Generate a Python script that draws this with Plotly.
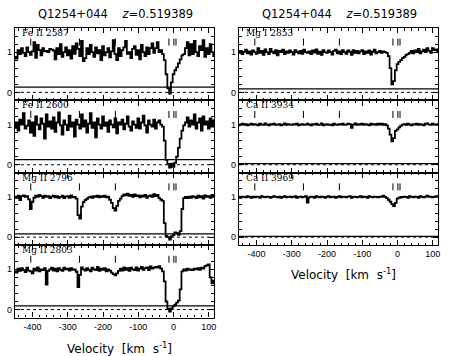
import plotly.graph_objects as go
import numpy as np

# ---------------- data ----------------
V_START = -450          # km/s, velocity of first bin
V_STEP = 5              # km/s per bin
X_RANGE = [-450, 115]
Y_RANGE = [-0.2, 1.6]

X_TICKS = [-400, -300, -200, -100, 0, 100]
X_TICKTEXT = ["-400", "-300", "-200", "-100", "0", "100"]
Y_TICKS = [0, 1]
Y_TICKTEXT = ["0", "1"]

TITLE = "Q1254+044\u00a0\u00a0\u00a0\u00a0<i>z</i>=0.519389"

LABELS = ["Fe II 2587", "Fe II 2600", "Mg II 2796", "Mg II 2803",
          "Mg I 2853", "Ca II 3934", "Ca II 3969"]

# column (0 left, 1 right) and row of each panel
COLS = [0, 0, 0, 0, 1, 1, 1]
ROWS = [0, 1, 2, 3, 0, 1, 2]

# component tick marks (km/s)
COMPONENTS = [-405, -267, -165, -13, 1, 7]

# 1-sigma error level per panel
ERR = [0.13, 0.13, 0.08, 0.09, 0.085, 0.03, 0.02]

fe2587 = [
    0.88, 0.84, 1.05, 0.95, 1.10, 0.98, 0.90, 1.12, 1.00, 0.93,   # -450
    1.02, 1.25, 0.86, 1.18, 1.05, 0.92, 1.10, 1.02, 1.03, 1.00,   # -400
    1.08, 1.06, 1.04, 0.82, 1.10, 0.95, 1.20, 0.88, 1.00, 1.12,   # -350
    0.92, 1.05, 0.84, 1.15, 0.96, 1.22, 1.08, 0.90, 1.28, 0.78,   # -300
    0.85, 1.10, 0.95, 1.18, 1.00, 0.88, 1.12, 0.97, 1.05, 0.80,   # -250
    1.15, 0.92, 1.00, 1.10, 0.87, 1.02, 1.30, 0.95, 0.80, 1.10,   # -200
    0.90, 1.05, 1.12, 1.28, 0.96, 1.00, 0.85, 1.08, 1.15, 0.93,   # -150
    1.05, 0.82, 1.18, 1.00, 0.90, 1.12, 0.95, 1.10, 1.22, 0.98,   # -100
    1.10, 1.25, 1.00, 1.05, 0.95, 0.80, 0.45, 0.10, -0.03, 0.25,  # -50
    0.45, 0.55, 0.62, 0.72, 0.82, 0.92, 0.95, 1.10, 1.25, 0.92,   # 0
    1.20, 0.95, 1.28, 1.00, 0.90, 1.15, 1.05, 1.30, 0.88, 1.10,   # 50
    0.95, 1.20, 1.00, 0.90,                                       # 100
]

fe2600 = [
    0.92, 1.05, 0.85, 1.12, 1.00, 1.28, 0.90, 0.97, 1.10, 0.80,
    1.05, 0.72, 1.20, 1.00, 0.88, 1.15, 1.02, 0.65, 1.25, 0.95,
    1.08, 0.90, 1.18, 0.82, 1.05, 1.30, 0.98, 0.75, 1.10, 1.00,
    0.86, 1.22, 0.95, 1.05, 0.70, 1.12, 1.00, 0.90, 1.25, 0.95,
    1.10, 0.80, 1.02, 1.28, 0.92, 1.05, 0.68, 1.15, 1.00, 0.90,
    1.20, 0.97, 1.05, 0.82, 1.10, 1.00, 0.93, 1.15, 0.78, 1.05,
    1.00, 1.12, 0.88, 1.02, 1.20, 0.95, 0.85, 1.08, 1.00, 0.92,
    1.15, 0.90, 1.05, 1.22, 0.98, 0.80, 1.10, 1.00, 0.95, 1.12,
    0.90, 1.05, 1.10, 1.00, 0.95, 0.60, 0.12, 0.02, -0.07, 0.03,
    -0.05, 0.05, 0.20, 0.42, 0.65, 0.85, 0.98, 1.05, 1.18, 0.95,
    1.10, 1.00, 1.25, 0.90, 1.05, 1.15, 0.85, 1.20, 1.00, 1.08,
    0.90, 1.15, 0.95, 1.10,
]

mg2796 = [
    1.00, 0.98, 1.03, 0.92, 1.02, 1.04, 1.00, 1.02, 0.94, 0.70,
    0.88, 0.98, 1.03, 1.00, 1.05, 1.02, 0.98, 1.03, 1.00, 1.02,
    0.97, 1.01, 1.03, 0.99, 1.02, 0.98, 1.00, 1.03, 0.97, 1.01,
    1.02, 0.98, 1.04, 0.99, 1.00, 0.96, 0.55, 0.46, 0.76, 0.87,
    0.92, 0.95, 0.99, 1.01, 0.98, 1.02, 1.00, 1.03, 0.99, 1.02,
    1.00, 1.03, 0.99, 1.01, 0.93, 0.85, 0.72, 0.66, 0.78, 0.90,
    0.96, 1.02, 1.06, 1.04, 1.08, 1.03, 1.05, 1.00, 1.06, 1.02,
    1.04, 0.99, 1.03, 1.01, 1.05, 0.98, 1.02, 1.04, 1.00, 1.07,
    1.02, 1.05, 0.97, 0.93, 0.90, 0.35, 0.03, 0.00, -0.06, 0.02,
    0.05, 0.12, 0.10, 0.06, 0.15, 0.70, 0.97, 1.00, 0.97, 1.01,
    0.98, 1.02, 1.00, 0.97, 1.03, 0.99, 1.02, 0.96, 1.04, 1.00,
    1.02, 0.98, 1.05, 1.00,
]

mg2803 = [
    0.95, 0.92, 1.02, 0.96, 1.03, 0.98, 0.93, 1.04, 0.97, 0.95,
    0.90, 1.02, 0.97, 1.05, 0.95, 1.00, 0.98, 1.03, 0.62, 0.96,
    1.00, 1.04, 0.97, 1.02, 0.95, 1.03, 0.99, 0.96, 1.04, 1.00,
    1.02, 0.97, 1.03, 0.99, 1.00, 0.94, 0.56, 0.86, 1.05, 1.00,
    0.97, 1.03, 0.99, 0.95, 1.04, 1.00, 0.98, 1.06, 0.96, 1.02,
    0.99, 1.03, 0.95, 1.00, 0.97, 0.92, 0.88, 0.85, 0.90, 0.96,
    1.02, 0.97, 1.05, 0.99, 1.03, 0.96, 1.04, 1.00, 0.98, 1.05,
    0.97, 1.02, 1.06, 0.99, 1.03, 1.05, 0.98, 1.07, 1.02, 1.04,
    1.06, 1.04, 1.08, 1.02, 0.95, 0.70, 0.20, 0.02, -0.05, 0.03,
    0.08, 0.12, 0.17, 0.22, 0.50, 0.95, 1.00, 0.97, 1.02, 0.99,
    1.00, 0.98, 1.02, 1.00, 1.03, 0.99, 1.04, 1.02, 1.08, 1.10,
    1.12, 0.80, 0.65, 0.72,
]

mg2853 = [
    0.98, 1.03, 0.95, 1.01, 1.06, 0.97, 1.02, 0.94, 1.04, 1.00,
    0.96, 1.10, 0.98, 1.03, 0.93, 1.07, 1.00, 0.95, 1.08, 1.01,
    0.97, 1.05, 0.92, 1.03, 1.00, 1.06, 0.95, 1.02, 0.98, 1.04,
    1.00, 0.94, 1.05, 1.01, 0.97, 1.03, 0.96, 1.06, 1.00, 0.98,
    1.02, 0.95, 1.04, 0.99, 1.07, 0.96, 1.01, 0.93, 1.05, 1.00,
    0.98, 1.04, 1.00, 0.94, 1.03, 1.06, 0.97, 1.02, 0.95, 1.05,
    1.00, 0.96, 1.04, 1.01, 0.93, 1.05, 0.98, 1.03, 0.97, 1.02,
    1.05, 0.95, 1.02, 0.98, 1.04, 0.94, 1.01, 1.06, 0.97, 1.00,
    1.03, 0.98, 1.02, 1.00, 0.98, 0.90, 0.60, 0.20, 0.28, 0.55,
    0.70, 0.76, 0.80, 0.85, 0.88, 0.93, 0.95, 0.98, 1.03, 0.97,
    1.04, 1.00, 1.08, 0.97, 1.02, 1.06, 1.00, 1.10, 1.03, 0.98,
    1.10, 1.05, 1.07, 1.00,
]

ca3934 = [
    0.98, 1.00, 1.02, 0.99, 1.01, 0.98, 1.00, 1.02, 0.99, 1.01,
    1.00, 0.98, 1.02, 1.00, 0.99, 1.03, 1.00, 0.98, 1.01, 1.00,
    1.02, 0.99, 1.00, 1.01, 0.98, 1.00, 1.03, 0.99, 1.01, 1.00,
    0.99, 1.01, 1.00, 1.02, 0.98, 1.00, 1.01, 0.99, 1.00, 1.02,
    1.00, 0.98, 1.01, 1.00, 1.02, 0.99, 1.00, 1.03, 0.98, 1.00,
    1.01, 0.99, 1.00, 0.98, 1.02, 1.00, 0.99, 1.01, 1.00, 1.02,
    0.99, 1.00, 1.02, 1.01, 0.92, 1.00, 1.03, 0.99, 1.01, 1.00,
    1.02, 0.99, 1.01, 1.00, 0.98, 1.02, 1.00, 1.01, 0.99, 1.02,
    1.00, 1.02, 0.99, 1.01, 0.98, 0.90, 0.75, 0.58, 0.66, 0.84,
    0.88, 0.93, 0.97, 1.00, 1.01, 0.99, 1.02, 1.00, 0.98, 1.01,
    1.00, 1.02, 0.99, 1.01, 1.00, 0.98, 1.02, 1.03, 1.00, 0.99,
    1.02, 1.00, 0.99, 1.01,
]

ca3969 = [
    1.00, 0.98, 1.01, 1.00, 0.99, 1.02, 1.00, 0.98, 1.01, 0.99,
    1.01, 1.00, 0.98, 1.02, 1.00, 0.99, 1.01, 1.00, 0.98, 1.00,
    1.02, 1.00, 0.99, 1.01, 0.98, 1.00, 1.02, 0.99, 1.00, 1.01,
    0.99, 1.00, 1.02, 0.98, 1.00, 1.01, 0.99, 1.00, 1.02, 0.86,
    0.99, 1.01, 1.00, 0.98, 1.02, 1.00, 0.99, 1.01, 1.00, 0.98,
    1.00, 1.02, 0.99, 1.00, 1.01, 0.98, 1.00, 1.02, 0.99, 1.01,
    1.00, 0.99, 1.01, 1.02, 0.98, 1.00, 1.01, 0.99, 1.00, 1.02,
    0.99, 1.01, 1.00, 0.98, 1.02, 1.00, 0.99, 1.01, 1.00, 0.99,
    1.01, 1.00, 1.03, 1.00, 0.97, 0.93, 0.88, 0.82, 0.77, 0.85,
    0.96, 0.98, 1.00, 0.99, 1.01, 1.00, 0.98, 1.02, 1.00, 0.99,
    1.01, 1.00, 0.98, 1.02, 1.00, 0.99, 1.01, 1.03, 1.00, 1.01,
    0.99, 1.00, 1.02, 1.00,
]

FLUX = [fe2587, fe2600, mg2796, mg2803, mg2853, ca3934, ca3969]

# ---------------- layout geometry (pixels) ----------------
W, H = 455, 356
COL_X = [(15, 215), (240, 440)]
TOP = 28
PH = 72.4
TICKFONT = dict(family="Liberation Sans Narrow, Arial Narrow, Liberation Sans",
                size=9, color="black")

fig = go.Figure()
layout = dict(width=W, height=H, margin=dict(l=0, r=0, t=0, b=0),
              paper_bgcolor="white", plot_bgcolor="white", showlegend=False)
annotations = []
shapes = []

nrows = [4, 3]
for i, flux in enumerate(FLUX):
    c, r = COLS[i], ROWS[i]
    n = i + 1
    xa = "xaxis" if n == 1 else f"xaxis{n}"
    ya = "yaxis" if n == 1 else f"yaxis{n}"
    xr = "x" if n == 1 else f"x{n}"
    yr = "y" if n == 1 else f"y{n}"
    x0, x1 = COL_X[c]
    top = TOP + PH * r
    bot = top + PH
    bottom_panel = (r == nrows[c] - 1)

    v = V_START + V_STEP * np.arange(len(flux))
    fig.add_trace(go.Scatter(x=v, y=flux, mode="lines", xaxis=xr, yaxis=yr,
                             line=dict(color="black", width=1.8, shape="hvh"),
                             hoverinfo="skip"))
    fig.add_trace(go.Scatter(x=COMPONENTS, y=[1.25] * len(COMPONENTS), mode="markers",
                             xaxis=xr, yaxis=yr,
                             marker=dict(symbol="line-ns-open", size=5, color="black",
                                         line=dict(color="black", width=1)),
                             hoverinfo="skip"))
    # error level (solid) and zero level (dotted)
    shapes.append(dict(type="line", xref=f"{xr} domain", yref=yr, x0=0, x1=1,
                       y0=ERR[i], y1=ERR[i], line=dict(color="black", width=1.2)))
    shapes.append(dict(type="line", xref=f"{xr} domain", yref=yr, x0=0, x1=1,
                       y0=0, y1=0, line=dict(color="black", width=1, dash="dot")))

    layout[xa] = dict(domain=[x0 / W, x1 / W], anchor=yr, range=X_RANGE,
                      showgrid=False, zeroline=False, showline=True, linecolor="black",
                      linewidth=1.3, mirror="allticks", ticks="inside", ticklen=5,
                      tickcolor="black", tickwidth=1,
                      tickmode="array", tickvals=X_TICKS, ticktext=X_TICKTEXT,
                      minor=dict(tickmode="linear", tick0=0, dtick=20, ticklen=2.5,
                                 ticks="inside", tickcolor="black"),
                      showticklabels=bottom_panel, tickfont=TICKFONT)
    layout[ya] = dict(domain=[1 - bot / H, 1 - top / H], anchor=xr, range=Y_RANGE,
                      showgrid=False, zeroline=False, showline=True, linecolor="black",
                      linewidth=1.3, mirror="allticks", ticks="inside", ticklen=5,
                      tickcolor="black", tickwidth=1,
                      tickmode="array", tickvals=Y_TICKS, ticktext=Y_TICKTEXT,
                      minor=dict(tickmode="linear", tick0=0, dtick=0.2, ticklen=2.5,
                                 ticks="inside", tickcolor="black"),
                      tickfont=TICKFONT)

    annotations.append(dict(text=LABELS[i], xref="paper", yref="paper",
                            x=(x0 + 5) / W, y=1 - (top + 5) / H, xanchor="left",
                            yanchor="middle", showarrow=False,
                            font=dict(family="DejaVu Serif", size=9, color="black")))

# titles and axis titles
for cx, ty in [(116.5, 13.8), (341.5, 13.8)]:
    annotations.append(dict(text=TITLE, xref="paper", yref="paper", x=cx / W,
                            y=1 - ty / H, xanchor="center", yanchor="middle",
                            showarrow=False,
                            font=dict(family="DejaVu Sans", size=11.5, color="black")))
for cx, ly in [(120.5, 348), (345.5, 273.5)]:
    annotations.append(dict(text="Velocity\u00a0\u00a0[km\u00a0\u00a0s<sup>-1</sup>]",
                            xref="paper", yref="paper", x=cx / W,
                            y=1 - ly / H, xanchor="center", yanchor="middle",
                            showarrow=False,
                            font=dict(family="DejaVu Sans", size=12, color="black")))

layout["annotations"] = annotations
layout["shapes"] = shapes
fig.update_layout(**layout)
fig.write_html("out.html", config={"displayModeBar": False},
               post_script="document.body.style.margin='0px';document.body.style.padding='0px';")
